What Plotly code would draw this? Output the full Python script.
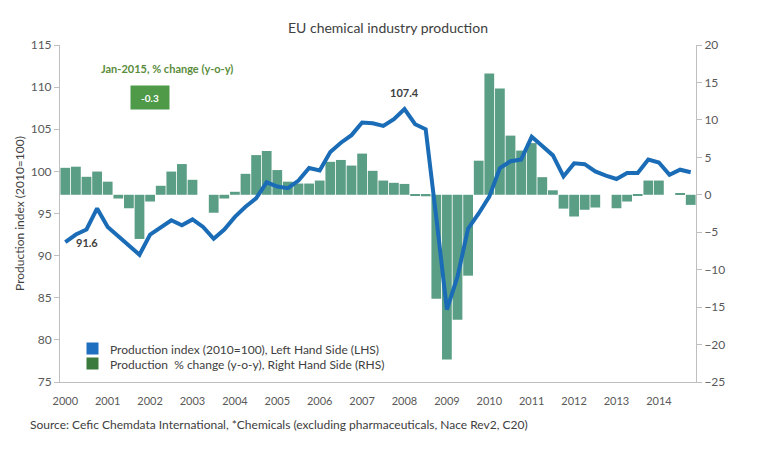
import plotly.graph_objects as go

years = [str(y) for y in range(2000, 2015)]
quarters = [f"{y}Q{q}" for y in years for q in range(1, 5)]

# Production index (2010=100), left axis
index_values = [
    91.6, 92.5, 93.1, 95.6, 93.4, 92.3, 91.3, 90.1,
    92.5, 93.4, 94.2, 93.6, 94.3, 93.4, 92.0, 93.1,
    94.6, 95.8, 96.8, 98.7, 98.2, 98.0, 98.9, 100.4,
    100.1, 102.3, 103.4, 104.3, 105.8, 105.7, 105.4, 106.2,
    107.4, 105.6, 105.0, 94.5, 83.6, 87.5, 93.2, 95.0,
    97.0, 100.4, 101.2, 101.4, 104.1, 103.0, 101.9, 99.4,
    100.95, 100.85, 100.0, 99.5, 99.1, 99.8, 99.8, 101.4,
    101.05, 99.6, 100.2, 99.9,
]

# Production % change (y-o-y), right axis
change_values = [
    3.6, 3.75, 2.4, 3.1, 1.75, -0.5, -1.8, -5.9,
    -0.9, 1.2, 3.1, 4.1, 2.0, 0.0, -2.4, -0.5,
    0.4, 2.8, 5.3, 5.85, 3.3, 1.75, 1.5, 1.5,
    1.9, 4.4, 4.65, 3.9, 5.5, 3.2, 1.9, 1.6,
    1.45, -0.1, -0.2, -13.9, -22.0, -16.7, -10.8, 4.55,
    16.2, 14.2, 7.9, 5.9, 6.9, 2.35, 0.6, -1.85,
    -2.9, -2.0, -1.7, 0.0, -1.8, -0.9, -0.1, 1.9,
    1.9, 0.0, 0.2, -1.35,
]

legend_labels = [
    "Production index (2010=100), Left Hand Side (LHS)",
    "Production  % change (y-o-y), Right Hand Side (RHS)",
]
latest_label = "Jan-2015, % change (y-o-y)"
latest_value = "-0.3"

FONT = "Lato"
TXT = "#404040"
TICK = "#595959"
AXIS = "#bfbfbf"
BAR = "#5b9e86"
LINE = "#1b6cb6"
LEG_COLORS = ["#1f6fc0", "#3a7a3c"]

# plot-area pixel geometry (page coords) used to place free text
PX0, PX1, PY0, PY1 = 60, 696.5, 45, 382
def px(x):
    return (x - PX0) / (PX1 - PX0)
def py(y):
    return (PY1 - y) / (PY1 - PY0)

fig = go.Figure()
fig.add_trace(go.Bar(
    x=quarters, y=change_values, yaxis="y",
    marker=dict(color=BAR, line=dict(width=0)),
    name=legend_labels[1], showlegend=False,
))
fig.add_trace(go.Scatter(
    x=quarters, y=index_values, yaxis="y2", mode="lines",
    line=dict(color=LINE, width=4), name=legend_labels[0], showlegend=False,
))

fig.update_layout(
    width=752, height=442,
    margin=dict(l=52, r=63.5, t=37, b=68),
    paper_bgcolor="white", plot_bgcolor="white",
    font=dict(family=FONT, size=11, color=TXT),
    bargap=0.08,
    showlegend=False,
    title=dict(text="EU chemical industry production", x=380/752, y=1-20/442,
               xanchor="center", yanchor="middle",
               font=dict(family=FONT, size=14, color=TXT)),
    xaxis=dict(
        type="category", range=[-0.5, 59.5],
        tickmode="array", tickvals=[f"{y}Q1" for y in years], ticktext=years,
        showline=True, linecolor=AXIS, linewidth=1, ticks="",
        ticklabelstandoff=9, showgrid=False, zeroline=False,
        tickfont=dict(family=FONT, size=11, color=TICK),
    ),
    yaxis=dict(
        side="right", range=[-25, 20], dtick=5, showgrid=False, zeroline=False,
        showline=True, linecolor=AXIS, ticks="outside", ticklen=5, tickcolor=AXIS,
        tickfont=dict(family=FONT, size=12, color=TICK),
    ),
    yaxis2=dict(
        overlaying="y", side="left", range=[75, 115], dtick=5,
        showgrid=False, zeroline=False,
        showline=True, linecolor=AXIS, ticks="outside", ticklen=5, tickcolor=AXIS,
        tickfont=dict(family=FONT, size=12, color=TICK),
        title=dict(text="Production index (2010=100)", standoff=3,
                   font=dict(family=FONT, size=12, color=TXT)),
    ),
)

annotations = [
    dict(xref="paper", yref="paper", x=px(167), y=py(68),
         xanchor="center", yanchor="middle",
         text=f"<b>{latest_label}</b>", showarrow=False,
         font=dict(family=FONT, size=11, color="#5a8c3c")),
    dict(xref="paper", yref="paper", x=px(150), y=py(97.5),
         xanchor="center", yanchor="middle",
         text=f"<b>{latest_value}</b>", showarrow=False, width=38, height=23,
         borderpad=0, bgcolor="#4e9a48", font=dict(family=FONT, size=10, color="white")),
    dict(xref="x", yref="y2", x=quarters[0], y=index_values[0],
         text=f"<b>{index_values[0]}</b>", showarrow=False, xanchor="left", xshift=9,
         font=dict(family=FONT, size=11, color=TXT)),
    dict(xref="x", yref="y2", x=quarters[32], y=index_values[32],
         text=f"<b>{index_values[32]}</b>", showarrow=False, yshift=17,
         font=dict(family=FONT, size=11, color=TXT)),
    dict(xref="paper", yref="paper", x=px(28), y=py(424),
         xanchor="left", yanchor="middle", showarrow=False,
         text="Source: Cefic Chemdata International, *Chemicals (excluding pharmaceuticals, Nace Rev2, C20)",
         font=dict(family=FONT, size=12, color=TXT)),
]
# legend drawn as free text with colour keys
for i, (lab, col) in enumerate(zip(legend_labels, LEG_COLORS)):
    ypix = 348 + 15.5 * i
    annotations.append(dict(
        xref="paper", yref="paper", x=px(93), y=py(ypix),
        xanchor="center", yanchor="middle", text=" ", showarrow=False,
        width=11, height=11, borderpad=0, bgcolor=col, font=dict(size=6)))
    annotations.append(dict(
        xref="paper", yref="paper", x=px(108), y=py(ypix + 1),
        xanchor="left", yanchor="middle", text=lab, showarrow=False,
        font=dict(family=FONT, size=12, color=TXT)))
fig.update_layout(annotations=annotations)

fig.write_html("out.html")
